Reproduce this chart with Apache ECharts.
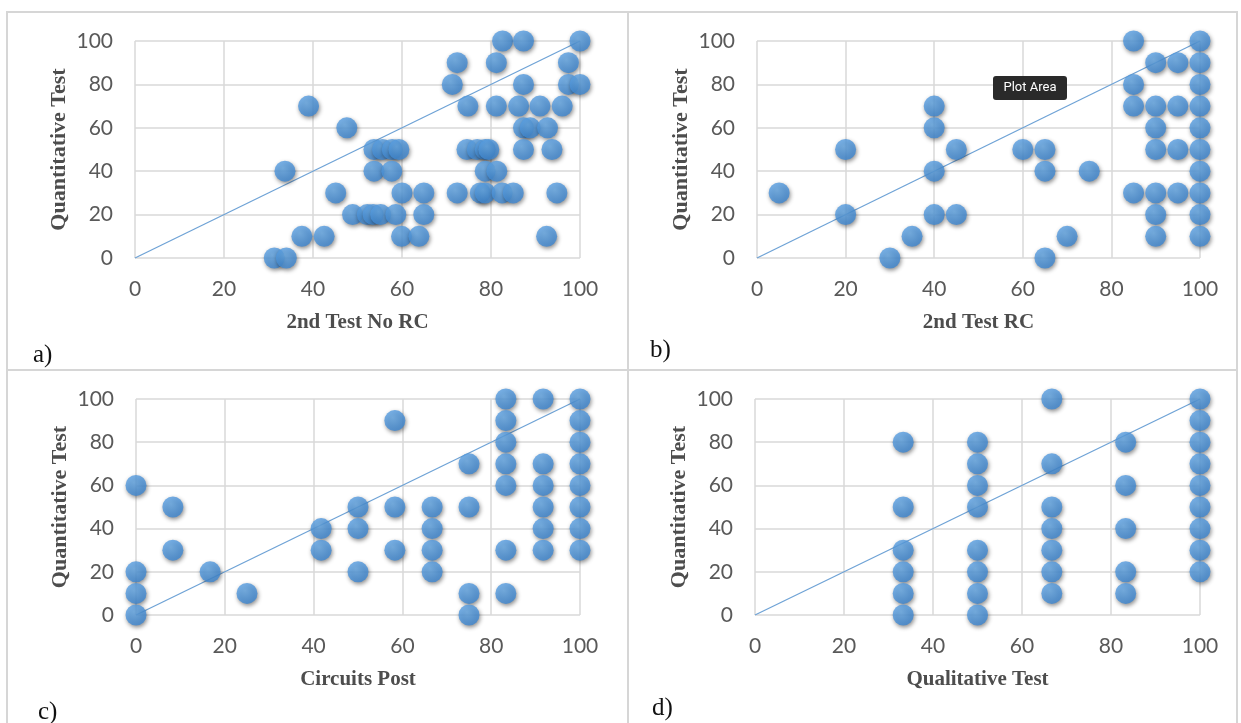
<!DOCTYPE html>
<html>

<head>
    <meta charset="UTF-8">
    <script src="https://cdn.jsdelivr.net/npm/echarts@6/dist/echarts.min.js"></script>
    <style>
    html, body {
        margin: 0;
        padding: 0;
        background: #fff;
    }
    #chart {
        width: 1241px;
        height: 723px;
    }
    </style>
</head>

<body>
    <div id="chart"></div>
    <script>
    // a) 2nd Test No RC vs Quantitative Test
    var aX = [82.6, 87.3, 100, 72.4, 81.2, 97.4, 71.3, 87.3, 97.4, 100,
        39, 74.8, 81.2, 86.2, 91, 96, 47.6, 87.3, 88.8, 92.7,
        53.7, 55.6, 57.8, 59.3, 74.6, 76.9, 78.7, 79.5, 87.3, 93.7,
        33.7, 53.7, 57.7, 78.7, 81.3,
        45.1, 60, 64.9, 72.4, 77.6, 78.7, 82.5, 85, 94.8,
        48.9, 52.2, 53.5, 55.2, 58.6, 64.9,
        37.5, 42.5, 59.9, 63.8, 92.5, 31.3, 34];
    var aY = [100, 100, 100, 90, 90, 90, 80, 80, 80, 80,
        70, 70, 70, 70, 70, 70, 60, 60, 60, 60,
        50, 50, 50, 50, 50, 50, 50, 50, 50, 50,
        40, 40, 40, 40, 40,
        30, 30, 30, 30, 30, 30, 30, 30, 30,
        20, 20, 20, 20, 20, 20,
        10, 10, 10, 10, 10, 0, 0];

    // b) 2nd Test RC vs Quantitative Test
    var bX = [85, 100, 90, 95, 100, 85, 100, 40, 85, 90, 95, 100,
        40, 90, 100, 20, 45, 60, 65, 90, 95, 100,
        40, 65, 75, 100, 5, 85, 90, 95, 100,
        20, 40, 45, 90, 100, 35, 70, 90, 100, 30, 65];
    var bY = [100, 100, 90, 90, 90, 80, 80, 70, 70, 70, 70, 70,
        60, 60, 60, 50, 50, 50, 50, 50, 50, 50,
        40, 40, 40, 40, 30, 30, 30, 30, 30,
        20, 20, 20, 20, 20, 10, 10, 10, 10, 0, 0];

    // c) Circuits Post vs Quantitative Test
    var cX = [83.3, 91.7, 100, 58.3, 83.3, 100, 83.3, 100, 75, 83.3, 91.7, 100,
        0, 83.3, 91.7, 100, 8.3, 50, 58.3, 66.7, 75, 91.7, 100,
        41.7, 50, 66.7, 91.7, 100, 8.3, 41.7, 58.3, 66.7, 83.3, 91.7, 100,
        0, 16.7, 50, 66.7, 0, 25, 75, 83.3, 0, 75];
    var cY = [100, 100, 100, 90, 90, 90, 80, 80, 70, 70, 70, 70,
        60, 60, 60, 60, 50, 50, 50, 50, 50, 50, 50,
        40, 40, 40, 40, 40, 30, 30, 30, 30, 30, 30, 30,
        20, 20, 20, 20, 10, 10, 10, 10, 0, 0];

    // d) Qualitative Test vs Quantitative Test
    var dX = [33.3, 33.3, 33.3, 33.3, 33.3, 33.3,
        50, 50, 50, 50, 50, 50, 50, 50,
        66.7, 66.7, 66.7, 66.7, 66.7, 66.7, 66.7,
        83.3, 83.3, 83.3, 83.3, 83.3,
        100, 100, 100, 100, 100, 100, 100, 100, 100];
    var dY = [80, 50, 30, 20, 10, 0,
        80, 70, 60, 50, 30, 20, 10, 0,
        100, 70, 50, 40, 30, 20, 10,
        80, 60, 40, 20, 10,
        100, 90, 80, 70, 60, 50, 40, 30, 20];

    var xNames = ['2nd Test No RC', '2nd Test RC', 'Circuits Post', 'Qualitative Test'];
    var yName = 'Quantitative Test';
    var panelTags = ['a)', 'b)', 'c)', 'd)'];
    // 对角参考线
    var diagX = [0, 100];
    var diagY = [0, 100];

    function pairs(xs, ys) {
        var out = [];
        for (var i = 0; i < xs.length; i++) {
            out.push([xs[i], ys[i]]);
        }
        return out;
    }

    var panels = [pairs(aX, aY), pairs(bX, bY), pairs(cX, cY), pairs(dX, dY)];

    // 每个子图的绘图区位置
    var grids = [
        { left: 135, top: 41, width: 445, height: 217 },
        { left: 757, top: 41, width: 443, height: 217 },
        { left: 136, top: 399, width: 444, height: 216 },
        { left: 755, top: 399, width: 445, height: 216 }
    ];

    var gridColor = '#d9d9d9';
    var labelColor = '#595959';
    var dotColor = {
        type: 'radial', x: 0.4, y: 0.35, r: 0.7,
        colorStops: [{ offset: 0, color: '#6aaeec' }, { offset: 1, color: '#3a84d0' }]
    };

    var xAxes = [], yAxes = [], series = [];
    for (var i = 0; i < 4; i++) {
        xAxes.push({
            gridIndex: i,
            type: 'value',
            min: 0,
            max: 100,
            interval: 20,
            name: xNames[i],
            nameLocation: 'middle',
            nameGap: 54,
            nameTextStyle: {
                fontFamily: 'Liberation Serif',
                fontWeight: 'bold',
                fontSize: 21,
                color: '#4d4d4d'
            },
            axisLine: { show: false },
            axisTick: { show: false },
            axisLabel: { margin: 21, fontFamily: 'Lato', fontSize: 21, color: labelColor },
            splitLine: { lineStyle: { color: gridColor, width: 1.5 } }
        });
        yAxes.push({
            gridIndex: i,
            type: 'value',
            min: 0,
            max: 100,
            interval: 20,
            name: yName,
            nameLocation: 'middle',
            nameRotate: 90,
            nameGap: 65,
            nameTextStyle: {
                fontFamily: 'Liberation Serif',
                fontWeight: 'bold',
                fontSize: 22,
                color: '#4d4d4d'
            },
            axisLine: { show: false },
            axisTick: { show: false },
            axisLabel: { margin: 22, fontFamily: 'Lato', fontSize: 21, color: labelColor },
            splitLine: { lineStyle: { color: gridColor, width: 1.5 } }
        });
        series.push({
            type: 'line',
            xAxisIndex: i,
            yAxisIndex: i,
            data: pairs(diagX, diagY),
            symbol: 'none',
            silent: true,
            z: 1,
            lineStyle: { color: '#6fa3d6', width: 1.3 }
        });
        series.push({
            type: 'scatter',
            xAxisIndex: i,
            yAxisIndex: i,
            data: panels[i],
            symbolSize: 21,
            z: 3,
            itemStyle: {
                color: dotColor,
                shadowColor: 'rgba(0,0,0,0.55)',
                shadowBlur: 4,
                shadowOffsetX: 1,
                shadowOffsetY: 2
            }
        });
    }

    // 外框、分隔线、子图编号、Plot Area提示
    var lineStyle = { stroke: '#d6d6d6', lineWidth: 2 };
    var tagPos = [[33, 343], [650, 338], [38, 700], [652, 696]];
    var graphics = [
        { type: 'rect', shape: { x: 7, y: 12, width: 1230, height: 730 }, style: { fill: null, stroke: '#d6d6d6', lineWidth: 2 }, silent: true },
        { type: 'line', shape: { x1: 628, y1: 12, x2: 628, y2: 723 }, style: lineStyle, silent: true },
        { type: 'line', shape: { x1: 7, y1: 370, x2: 1237, y2: 370 }, style: lineStyle, silent: true },
        { type: 'rect', shape: { x: 993, y: 76, width: 74, height: 24, r: 3 }, style: { fill: '#2a2a2a' }, z: 10 },
        { type: 'text', x: 1030, y: 88, z: 11, style: { text: 'Plot Area', fill: '#fff', font: '13px Roboto', align: 'center', verticalAlign: 'middle' } }
    ];
    for (var k = 0; k < 4; k++) {
        graphics.push({
            type: 'text',
            x: tagPos[k][0],
            y: tagPos[k][1],
            style: { text: panelTags[k], fill: '#111', font: '25px "Liberation Serif"' }
        });
    }

    var option = {
        animation: false,
        backgroundColor: '#fff',
        grid: grids,
        xAxis: xAxes,
        yAxis: yAxes,
        series: series,
        graphic: graphics
    };

    var myChart = echarts.init(document.getElementById('chart'));
    myChart.setOption(option);
    </script>
</body>

</html>
